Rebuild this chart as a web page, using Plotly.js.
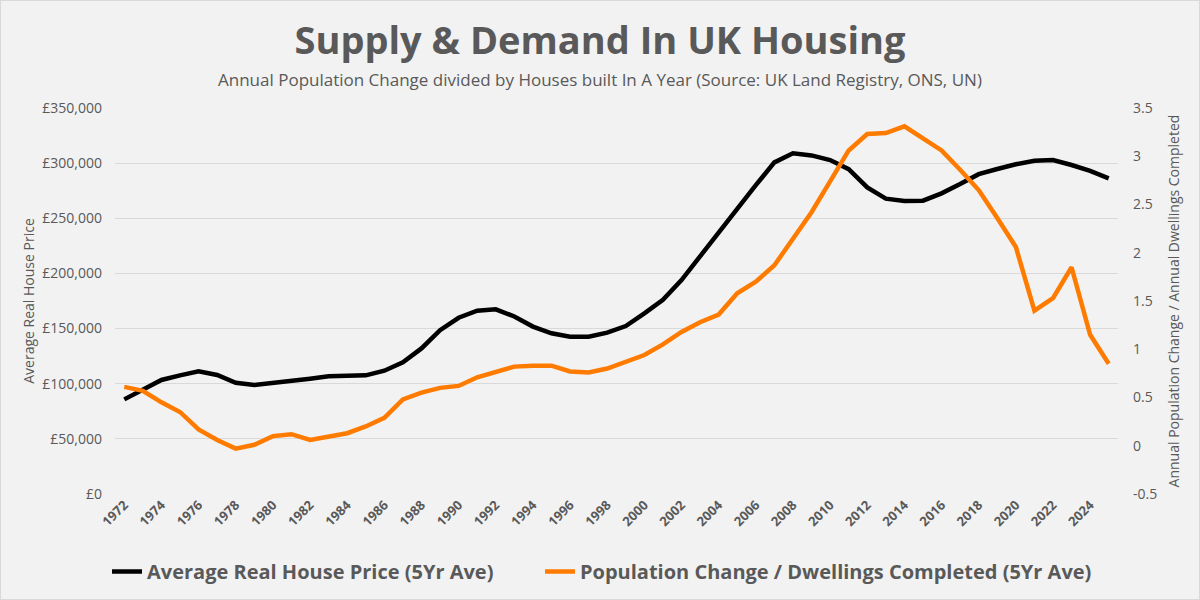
<!DOCTYPE html>
<html>
<head>
<meta charset="utf-8">
<script src="https://cdn.plot.ly/plotly-3.0.1.min.js"></script>
<style>
  html, body { margin: 0; padding: 0; background: #f2f2f2; }
  #wrap { position: relative; width: 1200px; height: 600px; }
  #chart { width: 1200px; height: 600px; }
  #frame { position: absolute; left: 0; top: 0; width: 1200px; height: 600px;
           box-sizing: border-box; border: 1px solid #d9d9d9; pointer-events: none; }
</style>
</head>
<body>
<div id="wrap">
  <div id="chart"></div>
  <div id="frame"></div>
</div>
<script>
// Years covered by both series
const years = [
  1972, 1973, 1974, 1975, 1976, 1977, 1978, 1979, 1980, 1981,
  1982, 1983, 1984, 1985, 1986, 1987, 1988, 1989, 1990, 1991,
  1992, 1993, 1994, 1995, 1996, 1997, 1998, 1999, 2000, 2001,
  2002, 2003, 2004, 2005, 2006, 2007, 2008, 2009, 2010, 2011,
  2012, 2013, 2014, 2015, 2016, 2017, 2018, 2019, 2020, 2021,
  2022, 2023, 2024, 2025
];

// Average real house price, 5-year average (£)
const housePrice = [
  85800, 94300, 103400, 107600, 111300, 107900, 100900, 98800, 100400, 102500,
  104600, 106700, 107300, 107600, 111800, 119500, 132000, 148500, 159800, 166200,
  167400, 161000, 151800, 145700, 142600, 142600, 146300, 152300, 163800, 176000,
  194000, 215800, 237000, 259000, 280000, 300700, 309000, 307000, 302800, 294500,
  278000, 267800, 265700, 266000, 272600, 281000, 290000, 294700, 299000, 302200,
  302800, 298300, 292900, 286200
];

// Annual population change / annual dwellings completed, 5-year average
const popPerDwelling = [
  0.61, 0.57, 0.45, 0.35, 0.17, 0.06, -0.03, 0.01, 0.10, 0.12,
  0.06, 0.10, 0.13, 0.20, 0.29, 0.48, 0.55, 0.60, 0.62, 0.71,
  0.77, 0.82, 0.83, 0.83, 0.77, 0.76, 0.80, 0.87, 0.94, 1.05,
  1.18, 1.28, 1.36, 1.58, 1.70, 1.87, 2.15, 2.42, 2.74, 3.06,
  3.23, 3.24, 3.31, 3.18, 3.06, 2.86, 2.65, 2.36, 2.06, 1.40,
  1.53, 1.85, 1.15, 0.85
];

// Labelled years on the category axis
const tickYears = [
  1972, 1974, 1976, 1978, 1980, 1982, 1984, 1986, 1988, 1990,
  1992, 1994, 1996, 1998, 2000, 2002, 2004, 2006, 2008, 2010,
  2012, 2014, 2016, 2018, 2020, 2022, 2024
];

const priceTicks = [0, 50000, 100000, 150000, 200000, 250000, 300000, 350000];
const ratioTicks = [-0.5, 0, 0.5, 1, 1.5, 2, 2.5, 3, 3.5];

const grey = '#595959';
const font = '"Open Sans", sans-serif';
const legendFont = { family: font, size: 20, color: grey, weight: 'bold' };

const traces = [
  {
    x: years, y: housePrice, type: 'scatter', mode: 'lines',
    name: 'Average Real House Price (5Yr Ave)',
    line: { color: '#000000', width: 4.5 },
    yaxis: 'y', legend: 'legend', hoverinfo: 'skip'
  },
  {
    x: years, y: popPerDwelling, type: 'scatter', mode: 'lines',
    name: 'Population Change / Dwellings Completed (5Yr Ave)',
    line: { color: '#ff7b00', width: 4.5 },
    yaxis: 'y2', legend: 'legend2', hoverinfo: 'skip'
  }
];

const layout = {
  width: 1200, height: 600,
  paper_bgcolor: '#f2f2f2', plot_bgcolor: '#f2f2f2',
  margin: { l: 115, r: 82, t: 108, b: 106 },
  showlegend: true,
  title: {
    text: '<b>Supply &amp; Demand In UK Housing</b>',
    font: { family: font, size: 38, color: grey },
    x: 0.5, xanchor: 'center', xref: 'container',
    y: 1 - 41 / 600, yref: 'container', yanchor: 'middle'
  },
  annotations: [{
    text: 'Annual Population Change divided by Houses built In A Year (Source: UK Land Registry, ONS, UN)',
    xref: 'paper', yref: 'paper', x: (600 - 115) / 1003, xanchor: 'center',
    y: (494 - 80) / 386, yanchor: 'middle', showarrow: false,
    font: { family: font, size: 17, color: grey }
  }],
  xaxis: {
    range: [1971.5, 2025.5],
    tickmode: 'array', tickvals: tickYears, ticktext: tickYears.map(String),
    tickangle: -45,
    tickfont: { family: font, size: 13, color: grey, weight: 'bold' },
    showgrid: false, zeroline: false, showline: false, ticks: '',
    automargin: false
  },
  yaxis: {
    range: [0, 350000],
    tickmode: 'array', tickvals: priceTicks,
    ticktext: priceTicks.map(v => '£' + v.toLocaleString('en-GB')),
    tickfont: { family: font, size: 14, color: grey },
    gridcolor: '#d9d9d9', gridwidth: 1, zeroline: false, showline: false,
    ticks: '', ticklabelstandoff: 12, automargin: false,
    title: { text: 'Average Real House Price', font: { family: font, size: 14, color: grey }, standoff: 4 }
  },
  yaxis2: {
    range: [-0.5, 3.5], overlaying: 'y', side: 'right',
    tickmode: 'array', tickvals: ratioTicks, ticktext: ratioTicks.map(String),
    tickfont: { family: font, size: 14, color: grey },
    showgrid: false, zeroline: false, showline: false, ticks: '', ticklabelstandoff: 14,
    automargin: false,
    title: { text: 'Annual Population Change / Annual Dwellings Completed', font: { family: font, size: 14, color: grey }, standoff: 12 }
  },
  legend: {
    orientation: 'h', xref: 'container', x: 107 / 1200, xanchor: 'left',
    yref: 'container', y: 1 - 552 / 600, yanchor: 'top',
    bgcolor: 'rgba(0,0,0,0)', font: legendFont, itemwidth: 30
  },
  legend2: {
    orientation: 'h', xref: 'container', x: 540 / 1200, xanchor: 'left',
    yref: 'container', y: 1 - 552 / 600, yanchor: 'top',
    bgcolor: 'rgba(0,0,0,0)', font: legendFont, itemwidth: 30
  }
};

Plotly.newPlot('chart', traces, layout, { displayModeBar: false, staticPlot: true });
</script>
</body>
</html>
